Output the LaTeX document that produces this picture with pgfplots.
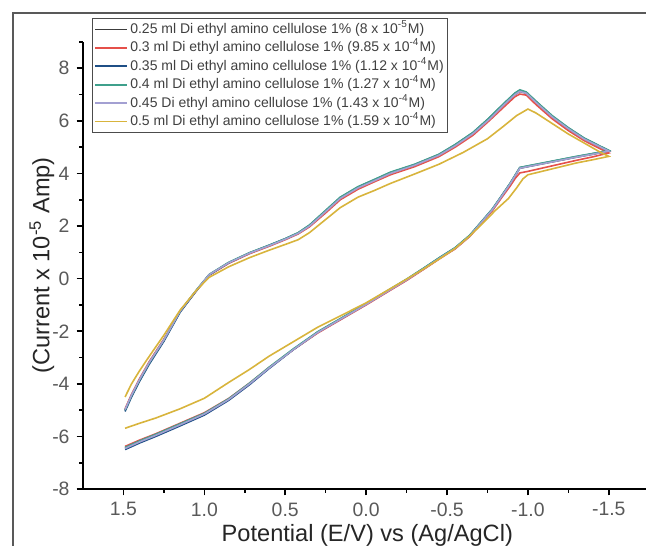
\documentclass[border=0pt]{standalone}
\usepackage{fontspec}
\setmainfont{Liberation Sans}
\usepackage{pgfplots}
\pgfplotsset{compat=1.18}
\usepackage{pgfplotstable}
\definecolor{cA}{HTML}{3C3C3C}
\definecolor{cB}{HTML}{E5504A}
\definecolor{cC}{HTML}{1F4F86}
\definecolor{cD}{HTML}{3FA08C}
\definecolor{cE}{HTML}{A3A0D2}
\definecolor{cF}{HTML}{D8B43C}

\pgfplotstableread{
x s1 s2 s3 s4 s5
1.49 -5.00 -4.95 -5.05 -5.00 -4.98
1.45 -4.45 -4.40 -4.50 -4.45 -4.43
1.40 -3.85 -3.80 -3.90 -3.85 -3.83
1.34 -3.20 -3.15 -3.25 -3.20 -3.18
1.25 -2.35 -2.30 -2.38 -2.33 -2.33
1.15 -1.25 -1.25 -1.28 -1.24 -1.24
1.05 -0.45 -0.47 -0.47 -0.44 -0.45
0.97 0.15 0.13 0.14 0.16 0.15
0.85 0.60 0.58 0.60 0.62 0.60
0.72 0.97 0.95 0.98 0.99 0.97
0.60 1.25 1.23 1.27 1.27 1.25
0.50 1.50 1.48 1.52 1.52 1.50
0.42 1.72 1.70 1.74 1.75 1.72
0.35 2.00 1.97 2.03 2.04 2.00
0.25 2.55 2.50 2.58 2.60 2.55
0.16 3.05 3.00 3.08 3.10 3.05
0.05 3.45 3.40 3.48 3.50 3.45
-0.05 3.72 3.68 3.76 3.77 3.72
-0.15 4.00 3.95 4.03 4.05 4.00
-0.30 4.30 4.26 4.34 4.35 4.31
-0.45 4.68 4.64 4.72 4.73 4.69
-0.55 5.05 5.00 5.09 5.10 5.05
-0.66 5.50 5.45 5.55 5.56 5.51
-0.76 6.05 6.00 6.10 6.11 6.05
-0.85 6.60 6.52 6.64 6.66 6.60
-0.92 7.00 6.92 7.05 7.06 7.00
-0.95 7.12 7.02 7.16 7.18 7.12
-0.99 7.05 6.98 7.08 7.10 7.05
-1.05 6.70 6.62 6.74 6.75 6.70
-1.15 6.15 6.08 6.18 6.20 6.15
-1.25 5.70 5.63 5.73 5.74 5.70
-1.35 5.30 5.24 5.33 5.34 5.30
-1.45 5.00 4.93 5.02 5.03 5.00
-1.50 4.85 4.78 4.87 4.88 4.85
-1.40 4.73 4.63 4.75 4.76 4.73
-1.30 4.62 4.50 4.64 4.65 4.62
-1.20 4.50 4.36 4.52 4.53 4.50
-1.10 4.38 4.22 4.40 4.41 4.38
-1.00 4.26 4.08 4.28 4.29 4.26
-0.95 4.20 4.02 4.22 4.23 4.20
-0.92 3.90 3.80 3.92 3.93 3.90
-0.89 3.60 3.52 3.62 3.63 3.60
-0.84 3.15 3.10 3.17 3.18 3.15
-0.78 2.62 2.58 2.64 2.65 2.62
-0.71 2.12 2.09 2.14 2.15 2.12
-0.64 1.62 1.60 1.64 1.65 1.62
-0.55 1.15 1.13 1.17 1.18 1.15
-0.46 0.80 0.78 0.82 0.83 0.80
-0.35 0.35 0.33 0.37 0.38 0.35
-0.25 -0.05 -0.07 -0.03 -0.02 -0.05
-0.15 -0.42 -0.44 -0.40 -0.39 -0.42
0.00 -0.98 -1.00 -0.96 -0.95 -0.98
0.16 -1.55 -1.57 -1.54 -1.52 -1.55
0.30 -2.05 -2.07 -2.04 -2.02 -2.05
0.45 -2.70 -2.70 -2.70 -2.67 -2.70
0.60 -3.40 -3.38 -3.42 -3.37 -3.40
0.72 -4.00 -3.97 -4.03 -3.97 -4.00
0.85 -4.60 -4.56 -4.63 -4.57 -4.60
1.00 -5.15 -5.10 -5.19 -5.12 -5.15
1.15 -5.55 -5.50 -5.60 -5.52 -5.56
1.30 -5.95 -5.90 -6.00 -5.92 -5.96
1.40 -6.20 -6.14 -6.25 -6.17 -6.21
1.49 -6.45 -6.38 -6.50 -6.42 -6.46
}\cvmain

\pgfplotstableread{
x y
1.49 -4.50
1.45 -4.00
1.40 -3.50
1.34 -2.95
1.25 -2.15
1.15 -1.20
1.05 -0.45
0.97 0.05
0.85 0.45
0.72 0.80
0.60 1.08
0.50 1.30
0.42 1.48
0.35 1.75
0.25 2.25
0.16 2.70
0.05 3.10
-0.05 3.35
-0.15 3.62
-0.30 3.98
-0.45 4.35
-0.60 4.80
-0.75 5.32
-0.85 5.80
-0.93 6.20
-1.00 6.45
-1.05 6.30
-1.15 5.90
-1.25 5.50
-1.35 5.15
-1.45 4.80
-1.50 4.65
-1.40 4.52
-1.30 4.40
-1.20 4.25
-1.10 4.10
-1.00 3.95
-0.97 3.80
-0.93 3.45
-0.88 3.05
-0.80 2.60
-0.72 2.10
-0.64 1.62
-0.55 1.15
-0.46 0.78
-0.35 0.35
-0.25 -0.02
-0.15 -0.38
0.00 -0.92
0.16 -1.42
0.30 -1.85
0.45 -2.40
0.60 -2.95
0.72 -3.45
0.85 -3.95
1.00 -4.55
1.15 -4.95
1.30 -5.30
1.40 -5.50
1.49 -5.69
}\cvsix

\begin{document}
\begin{tikzpicture}
\path[use as bounding box] (0,0) rectangle (323pt,272.5pt);
\draw[black!65, line width=0.9pt] (6.5pt,-2pt) -- (6.5pt,266pt) -- (325pt,266pt);
\begin{axis}[
  at={(41.5pt,28pt)}, anchor=south west,
  scale only axis, width=281.5pt, height=223.5pt,
  x dir=reverse,
  xmin=-1.73, xmax=1.75, ymin=-8, ymax=9,
  axis x line=bottom, axis y line=left,
  axis line style={-, line width=0.9pt, black},
  tick align=outside,
  major tick length=3.2pt, minor tick length=1.8pt,
  every tick/.style={black, line width=0.8pt},
  xtick={-1.5,-1,-0.5,0,0.5,1,1.5},
  minor xtick={-1.25,-0.75,-0.25,0.25,0.75,1.25},
  ytick={-8,-6,-4,-2,0,2,4,6,8},
  minor ytick={-7,-5,-3,-1,1,3,5,7,9},
  /pgf/number format/assume math mode=true,
  xticklabel style={/pgf/number format/.cd, fixed, fixed zerofill, precision=1},
  yticklabel style={/pgf/number format/.cd, fixed, precision=0},
  tick label style={font=\fontsize{9.7}{11}\selectfont, text=black!65},
  xlabel={Potential (E/V) vs (Ag/AgCl)},
  ylabel={(Current x 10\textsuperscript{-5} Amp)},
  label style={font=\fontsize{11.8}{13}\selectfont, text=black!85},
  xlabel style={at={(axis description cs:0.505,-0.103)}, anchor=center},
  ylabel style={at={(axis description cs:-0.073,0.5)}, anchor=center},
  legend cell align=left,
  legend image code/.code={\draw[#1, line width=0.9pt] (0pt,0pt) -- (16pt,0pt);},
  legend style={at={(0.016,1.054)}, anchor=north west, draw=black!70, line width=0.5pt,
    fill=white, font=\fontsize{7}{8}\selectfont, text=black!75, inner sep=1pt, row sep=0pt,
    nodes={inner sep=1pt, text height=5.6pt, text depth=1.6pt}},
]
\addplot[cA, line width=0.8pt] table[x=x, y=s1] {\cvmain};
\addlegendentry{0.25 ml Di ethyl amino cellulose 1\% (8 x 10\textsuperscript{-5}M)}
\addplot[cB, line width=0.8pt] table[x=x, y=s2] {\cvmain};
\addlegendentry{0.3 ml Di ethyl amino cellulose 1\% (9.85 x 10\textsuperscript{-4}M)}
\addplot[cC, line width=0.8pt] table[x=x, y=s3] {\cvmain};
\addlegendentry{0.35 ml Di ethyl amino cellulose 1\% (1.12 x 10\textsuperscript{-4}M)}
\addplot[cD, line width=0.8pt] table[x=x, y=s4] {\cvmain};
\addlegendentry{0.4 ml Di ethyl amino cellulose 1\% (1.27 x 10\textsuperscript{-4}M)}
\addplot[cE, line width=0.8pt] table[x=x, y=s5] {\cvmain};
\addlegendentry{0.45 Di ethyl amino cellulose 1\% (1.43 x 10\textsuperscript{-4}M)}
\addplot[cF, line width=0.8pt] table[x=x, y=y] {\cvsix};
\addlegendentry{0.5 ml Di ethyl amino cellulose 1\% (1.59 x 10\textsuperscript{-4}M)}
\end{axis}
\end{tikzpicture}
\end{document}
